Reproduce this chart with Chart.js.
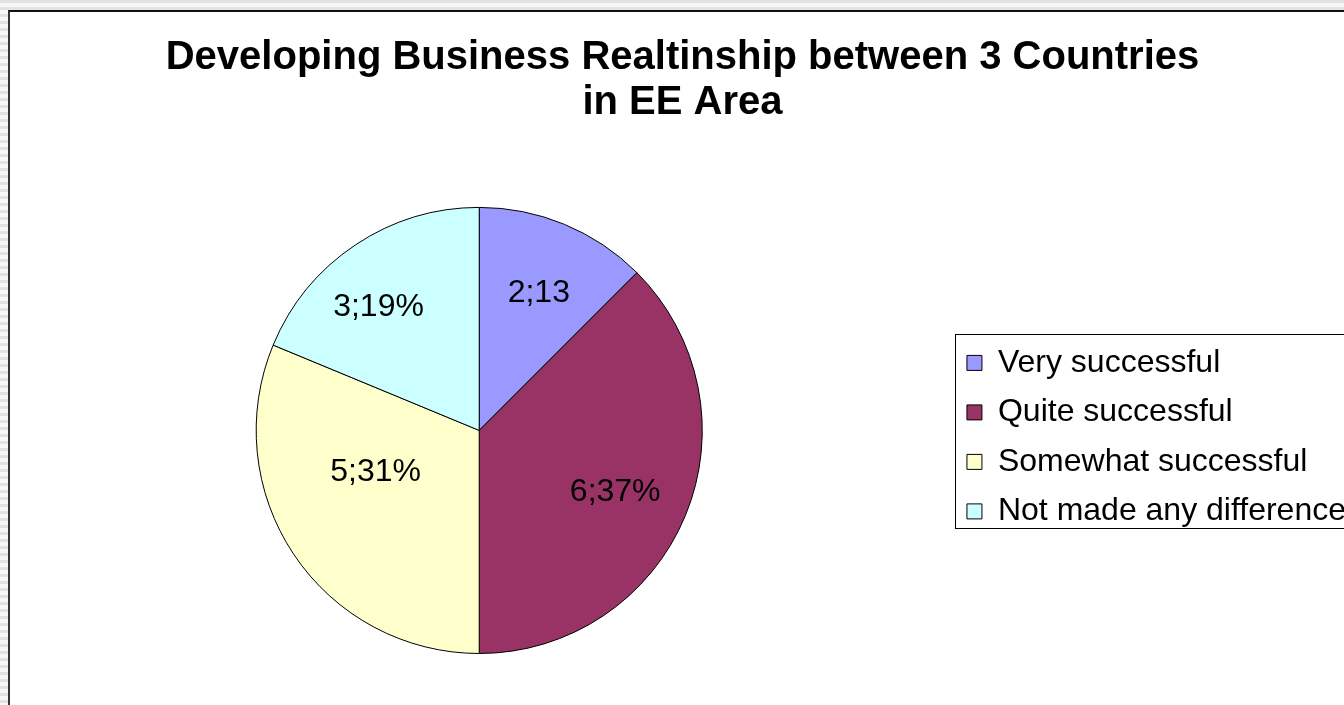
<!DOCTYPE html>
<html>
<head>
<meta charset="utf-8">
<title>Developing Business Realtinship between 3 Countries in EE Area</title>
<script src="https://cdn.jsdelivr.net/npm/chart.js@4/dist/chart.umd.min.js"></script>
<style>
html, body {
    margin: 0;
    padding: 0;
    width: 1344px;
    height: 705px;
    overflow: hidden;
    background: repeating-linear-gradient(to bottom, #e2e2e2 0 3px, #f7f7f7 3px 7px);
}
.frame {
    position: absolute;
    left: 8px;
    top: 10px;
    width: 1400px;
    height: 760px;
    background: #fff;
    border-left: 2px solid #333;
    border-top: 2px solid #111;
}
#chart {
    position: absolute;
    left: 0;
    top: 0;
}
</style>
</head>
<body>
<div class="frame"></div>
<canvas id="chart" width="1400" height="705"></canvas>
<script>
let categories = ['Very successful', 'Quite successful', 'Somewhat successful', 'Not made any difference']
let counts = [2, 6, 5, 3]
let sliceLabels = ['2;13', '6;37%', '5;31%', '3;19%']
let colors = ['#9999FF', '#993366', '#FFFFCC', '#CCFFFF']
let titleLines = ['Developing Business Realtinship between 3 Countries', 'in EE Area']

// where Excel put each label in its slice: [angle shift in degrees, fraction of radius]
const labelPlace = [[1, 0.67], [2, 0.67], [12, 0.50], [-5.4, 0.715]]

Chart.defaults.font.family = "'Liberation Sans', Arial, sans-serif"
Chart.defaults.color = '#000'

// the "value;percent" text inside each slice
const sliceText = {
    id: 'sliceText',
    afterDatasetsDraw(chart) {
        const ctx = chart.ctx
        const meta = chart.getDatasetMeta(0)
        ctx.save()
        ctx.font = "32px 'Liberation Sans', Arial, sans-serif"
        ctx.fillStyle = '#000'
        ctx.textAlign = 'center'
        ctx.textBaseline = 'middle'
        meta.data.forEach((arc, i) => {
            const p = arc.getProps(['x', 'y', 'startAngle', 'endAngle', 'outerRadius'], true)
            const a = (p.startAngle + p.endAngle) / 2 + labelPlace[i][0] * Math.PI / 180
            const r = p.outerRadius * labelPlace[i][1]
            ctx.fillText(sliceLabels[i], p.x + Math.cos(a) * r, p.y + Math.sin(a) * r)
        })
        ctx.restore()
    }
}

// thin black box round the legend, running off the right edge
const legendFrame = {
    id: 'legendFrame',
    afterDraw(chart) {
        const boxes = chart.legend.legendHitBoxes
        const first = boxes[0]
        const last = boxes[boxes.length - 1]
        const ctx = chart.ctx
        const x = Math.round(first.left - 12) + 0.5
        const y = Math.round(first.top - 13) + 0.5
        const y2 = Math.round(last.top + last.height + 1) + 0.5
        ctx.save()
        ctx.strokeStyle = '#000'
        ctx.lineWidth = 1
        ctx.strokeRect(x, y, chart.width + 10 - x, y2 - y)
        ctx.restore()
    }
}

new Chart(document.getElementById('chart'), {
    type: 'pie',
    data: {
        labels: categories,
        datasets: [{
            data: counts,
            backgroundColor: colors,
            borderColor: '#000',
            borderWidth: 1,
            hoverOffset: 0
        }]
    },
    options: {
        responsive: false,
        animation: false,
        layout: { padding: { left: 9, right: 44, top: 0, bottom: 51 } },
        plugins: {
            title: {
                display: true,
                text: titleLines,
                color: '#000',
                font: { size: 40, weight: 'bold', lineHeight: 1.13 },
                padding: { top: 35.5, bottom: 81 }
            },
            legend: {
                position: 'right',
                align: 'start',
                // empty title only pushes the items down to the middle of the pie
                title: { display: true, text: ' ', font: { size: 12, lineHeight: 1 }, padding: { top: 317.4, bottom: 0 } },
                labels: {
                    boxWidth: 15,
                    boxHeight: 15,
                    padding: 17.5,
                    color: '#000',
                    font: { size: 32 }
                }
            },
            tooltip: { enabled: false }
        }
    },
    plugins: [sliceText, legendFrame]
})
</script>
</body>
</html>
